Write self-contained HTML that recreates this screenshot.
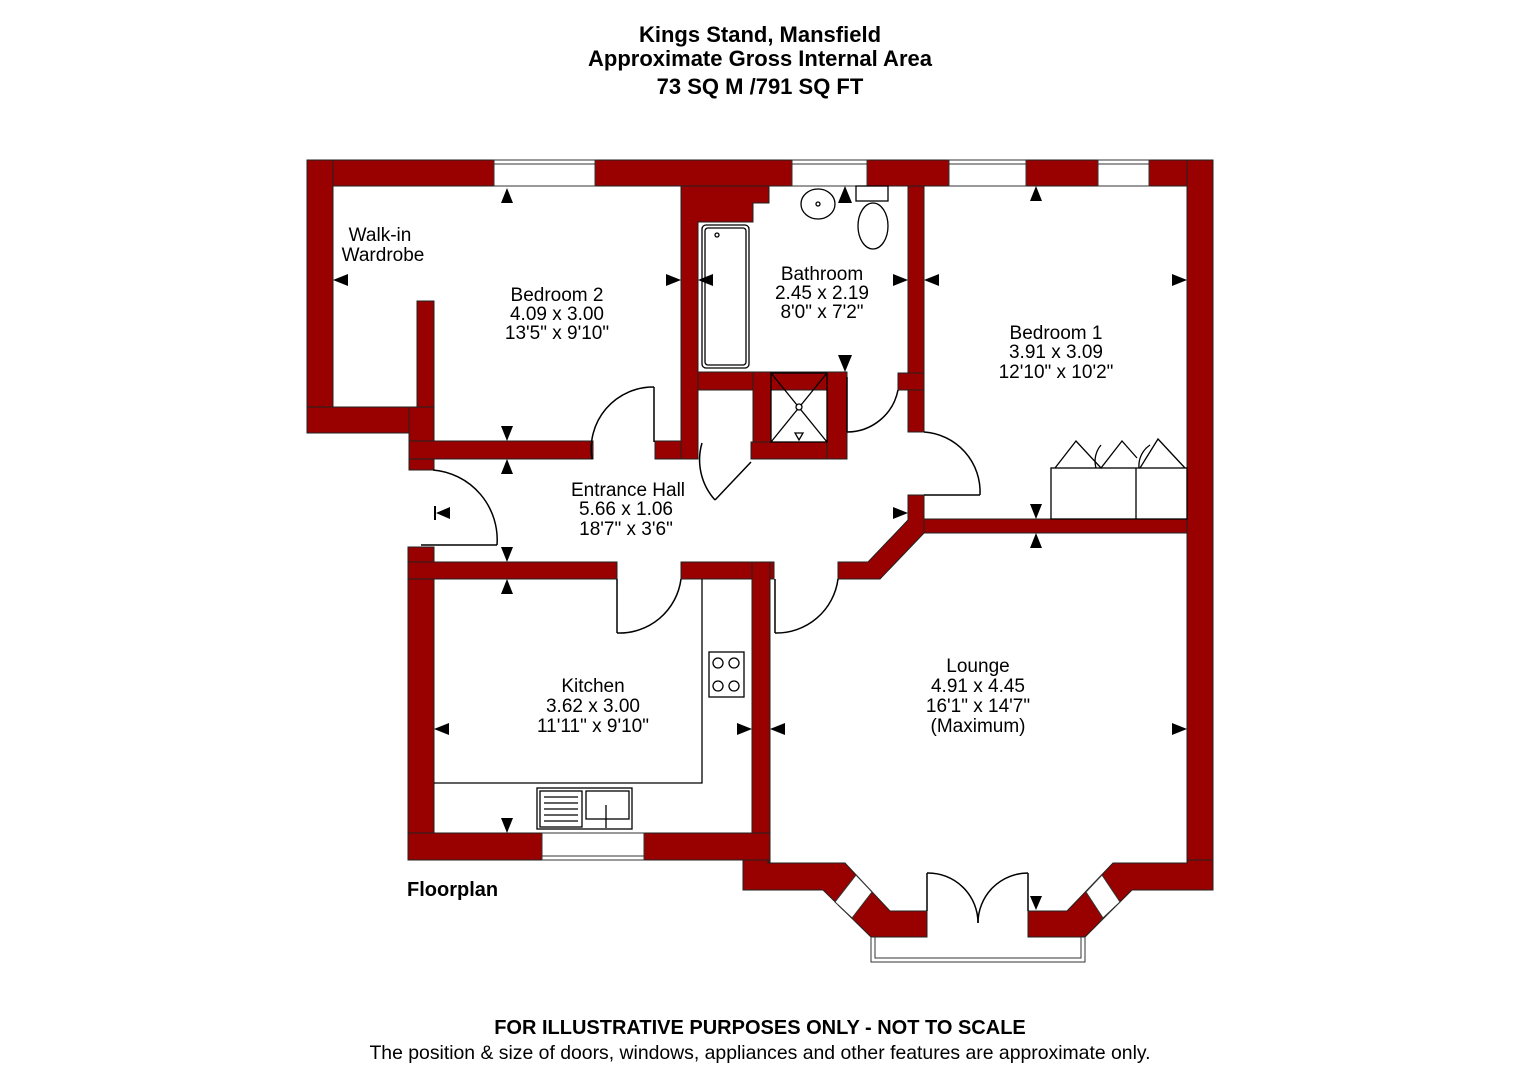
<!DOCTYPE html>
<html><head><meta charset="utf-8"><style>
html,body{margin:0;padding:0;background:#fff;}
svg{display:block;}
text{font-family:"Liberation Sans",Arial,sans-serif;fill:#000;}
</style></head><body>
<svg width="1528" height="1080" viewBox="0 0 1528 1080" xmlns="http://www.w3.org/2000/svg">
<g font-weight="bold" font-size="22" text-anchor="middle">
<text x="760" y="42">Kings Stand, Mansfield</text>
<text x="760" y="66">Approximate Gross Internal Area</text>
<text x="760" y="94">73 SQ M /791 SQ FT</text>
</g>
<g fill="#990000" stroke="#222" stroke-width="1">
<rect x="307" y="160" width="906" height="26"/>
<rect x="307" y="160" width="26" height="273"/>
<rect x="307" y="407" width="126" height="26"/>
<rect x="417" y="301" width="17" height="132"/>
<rect x="409" y="407" width="25" height="63"/>
<rect x="409" y="441" width="184" height="18"/>
<rect x="655" y="441" width="43" height="18"/>
<polygon points="681,186 769,186 769,203 753,203 753,222 698,222 698,459 681,459"/>
<rect x="698" y="372" width="149" height="18"/>
<rect x="753" y="372" width="18" height="87"/>
<rect x="751" y="442" width="96" height="17"/>
<rect x="827" y="372" width="20" height="87"/>
<rect x="908" y="186" width="16" height="187"/>
<rect x="898" y="373" width="26" height="17"/>
<rect x="908" y="390" width="16" height="42"/>
<polygon points="908,495 924,495 924,533 880,579 838,579 838,562 868,562 908,520"/>
<rect x="924" y="519" width="263" height="14"/>
<rect x="1187" y="160" width="26" height="730"/>
<rect x="408" y="547" width="26" height="313"/>
<rect x="408" y="562" width="209" height="17"/>
<rect x="681" y="562" width="93" height="17"/>
<rect x="752" y="562" width="18" height="300"/>
<rect x="408" y="833" width="362" height="27"/>
<polygon points="743,860 768,860 768,863 845,863 890,911 927,911 927,937 871,937 823,890 743,890"/>
<polygon points="1028,911 1067,911 1113,863 1187,863 1187,860 1213,860 1213,890 1132,890 1085,937 1028,937"/>
</g>
<g fill="#fff" stroke="#333" stroke-width="1">
<rect x="494" y="160" width="101" height="26"/>
<rect x="792" y="160" width="75" height="26"/>
<rect x="949" y="160" width="77" height="26"/>
<rect x="1098" y="160" width="51" height="26"/>
<rect x="542" y="833" width="102" height="27"/>
<polygon points="856,875 872,892 852,918 835,902"/>
<polygon points="1102,875 1086,892 1103,918 1120,902"/>
</g>
<g stroke="#333" stroke-width="1" fill="none">
<line x1="494" y1="164" x2="595" y2="164"/><line x1="792" y1="164" x2="867" y2="164"/>
<line x1="949" y1="164" x2="1026" y2="164"/><line x1="1098" y1="164" x2="1149" y2="164"/>
<line x1="542" y1="856" x2="644" y2="856"/>
<line x1="838" y1="905" x2="855" y2="921"/><line x1="1117" y1="905" x2="1100" y2="921"/>
<polyline points="871,937 871,962 1085,962 1085,937"/>
<polyline points="875,937 875,958 1081,958 1081,937"/>
</g>
<g stroke="#000" stroke-width="1.5" fill="none">
<line x1="654" y1="387" x2="654" y2="442"/><path d="M592,459 A62,62 0 0 1 654,387"/>
<path d="M702,443 A60,60 0 0 0 715,500"/><line x1="715" y1="500" x2="751" y2="462"/>
<line x1="847" y1="377" x2="847" y2="432"/><path d="M847,432 A52,52 0 0 0 898,390"/>
<line x1="924" y1="495" x2="980" y2="495"/><path d="M924,432 A60,60 0 0 1 980,495"/>
<line x1="421" y1="545" x2="497" y2="545"/><path d="M433,470 A70,70 0 0 1 497,545"/>
<line x1="617" y1="579" x2="617" y2="633"/><path d="M617,633 A62,62 0 0 0 681,579"/>
<line x1="775" y1="579" x2="775" y2="633"/><path d="M775,633 A62,62 0 0 0 838,579"/>
<line x1="927" y1="873" x2="927" y2="911"/><line x1="1028" y1="873" x2="1028" y2="911"/>
<path d="M927,873 A50,50 0 0 1 978,923"/><path d="M1028,873 A50,50 0 0 0 978,923"/>
</g>
<g stroke="#000" stroke-width="1.3" fill="#fff">
<rect x="702" y="225" width="47" height="143" rx="4"/>
<rect x="705" y="228" width="41" height="137" rx="3" fill="none"/>
<circle cx="717" cy="235" r="2"/>
<ellipse cx="818" cy="204" rx="17" ry="15"/><circle cx="818" cy="204" r="2"/>
<rect x="856" y="186" width="32" height="15"/>
<ellipse cx="873" cy="226" rx="15" ry="23"/>
<rect x="771" y="373" width="56" height="69" fill="none"/>
<line x1="771" y1="373" x2="827" y2="442"/><line x1="827" y1="373" x2="771" y2="442"/>
<circle cx="799" cy="407" r="3"/>
<polygon points="795,433 803,433 799,440"/>
<polyline points="702,579 702,783 434,783" fill="none"/>
<rect x="709" y="652" width="35" height="45"/>
<circle cx="718" cy="663" r="5"/><circle cx="734" cy="663" r="5"/>
<circle cx="718" cy="686" r="5"/><circle cx="734" cy="686" r="5"/>
<rect x="537" y="788" width="95" height="41"/>
<rect x="540" y="791" width="42" height="36"/>
<rect x="586" y="791" width="43" height="28"/>
<line x1="544" y1="797" x2="578" y2="797"/><line x1="544" y1="803" x2="578" y2="803"/><line x1="544" y1="809" x2="578" y2="809"/><line x1="544" y1="815" x2="578" y2="815"/><line x1="544" y1="821" x2="578" y2="821"/>
<line x1="606" y1="805" x2="606" y2="828"/>
<rect x="1051" y="468" width="136" height="51" fill="none"/>
<line x1="1136" y1="468" x2="1136" y2="519"/>
<polyline points="1055,468 1076,441 1101,468 1122,441 1137,458" fill="none"/>
<polyline points="1140,468 1158,439 1185,468" fill="none"/>
<path d="M1096,468 A25,25 0 0 1 1101,445" fill="none"/>
<path d="M1139,468 A25,25 0 0 1 1150,445" fill="none"/>
</g>
<g fill="#000">
<polygon points="507,188 501,203 513,203"/>
<polygon points="507,441 501,426 513,426"/>
<polygon points="507,459 501,474 513,474"/>
<polygon points="507,562 501,547 513,547"/>
<polygon points="507,579 501,594 513,594"/>
<polygon points="507,833 501,818 513,818"/>
<polygon points="333,280 348,274 348,286"/>
<polygon points="681,280 666,274 666,286"/>
<polygon points="698,280 713,274 713,286"/>
<polygon points="908,280 893,274 893,286"/>
<polygon points="924,280 939,274 939,286"/>
<polygon points="1187,280 1172,274 1172,286"/>
<polygon points="1036,186 1030,201 1042,201"/>
<polygon points="1036,519 1030,504 1042,504"/>
<polygon points="1036,533 1030,548 1042,548"/>
<polygon points="845,186 838,203 852,203"/>
<polygon points="845,372 838,355 852,355"/>
<polygon points="436,513 450,507 450,519"/><rect x="434" y="506" width="2" height="14"/>
<polygon points="908,513 893,507 893,519"/>
<polygon points="434,729 449,723 449,735"/>
<polygon points="752,729 737,723 737,735"/>
<polygon points="770,729 785,723 785,735"/>
<polygon points="1187,729 1172,723 1172,735"/>
<polygon points="1036,910 1030,896 1042,896"/>
</g>
<g font-size="19" text-anchor="middle">
<text x="380" y="241">Walk-in</text><text x="383" y="261">Wardrobe</text>
<text x="557" y="301">Bedroom 2</text><text x="557" y="320">4.09 x 3.00</text><text x="557" y="339">13'5" x 9'10"</text>
<text x="822" y="280">Bathroom</text><text x="822" y="299">2.45 x 2.19</text><text x="822" y="318">8'0" x 7'2"</text>
<text x="1056" y="339">Bedroom 1</text><text x="1056" y="358">3.91 x 3.09</text><text x="1056" y="378">12'10" x 10'2"</text>
<text x="628" y="496">Entrance Hall</text><text x="626" y="515">5.66 x 1.06</text><text x="626" y="535">18'7" x 3'6"</text>
<text x="593" y="692">Kitchen</text><text x="593" y="712">3.62 x 3.00</text><text x="593" y="732">11'11" x 9'10"</text>
<text x="978" y="672">Lounge</text><text x="978" y="692">4.91 x 4.45</text><text x="978" y="712">16'1" x 14'7"</text><text x="978" y="732">(Maximum)</text>
</g>
<text x="407" y="896" font-size="20" font-weight="bold">Floorplan</text>
<text x="760" y="1034" font-size="20" font-weight="bold" text-anchor="middle">FOR ILLUSTRATIVE PURPOSES ONLY - NOT TO SCALE</text>
<text x="760" y="1059" font-size="19.4" text-anchor="middle">The position &amp; size of doors, windows, appliances and other features are approximate only.</text>
</svg>
</body></html>
